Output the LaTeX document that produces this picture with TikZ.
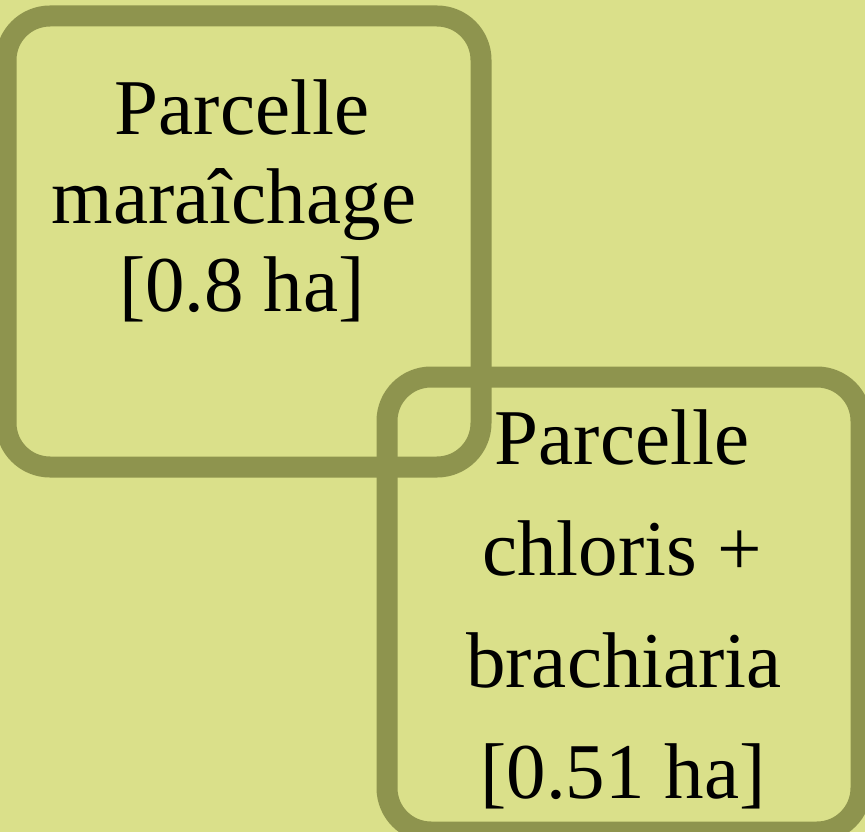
\documentclass[tikz,border=0pt]{standalone}
\usepackage{fontspec}
\setmainfont{Liberation Serif}
\definecolor{plotbg}{RGB}{218,224,138}
\definecolor{plotedge}{RGB}{142,148,78}
\begin{document}
\begin{tikzpicture}[x=1pt,y=-1pt,
  plotbox/.style={draw=plotedge, line width=21pt, rounded corners=44pt},
  lbl/.style={font=\fontsize{79}{88}\selectfont, anchor=base, inner sep=0pt, text=black}]
  % canvas
  \path[fill=plotbg, use as bounding box] (0,0) rectangle (865,832);
  \begin{scope}
    \clip (0,0) rectangle (865,832);
    % the two plots
    \draw[plotbox] (6,16) rectangle (481,467);
    \draw[plotbox] (387,377) rectangle (861,832);
  \end{scope}
  % vegetable plot
  \node[lbl] (a1) at (242,135) {Parcelle};
  \node[lbl] (a2) at (234,223) {maraîchage};
  \node[lbl] (a3) at (242,311) {[0.8 ha]};
  % forage plot
  \node[lbl] (b1) at (622,464) {Parcelle};
  \node[lbl] (b2) at (622,575) {chloris +};
  \node[lbl] (b3) at (624,687) {brachiaria};
  \node[lbl] (b4) at (623,798) {[0.51 ha]};
\end{tikzpicture}
\end{document}
